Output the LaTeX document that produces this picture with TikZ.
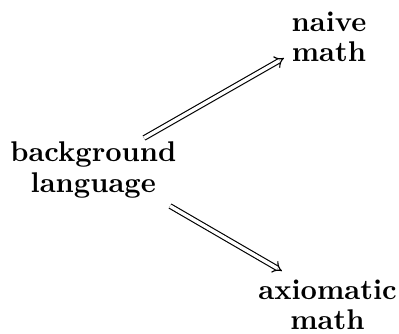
\documentclass[tikz,border=0pt]{standalone}
\usetikzlibrary{arrows.meta,calc}
\begin{document}
\begin{tikzpicture}[x=0.3509pt,y=-0.3509pt,
  lbl/.style={font=\fontsize{10}{10.6}\selectfont\bfseries,align=center,inner sep=0pt},
  arr/.style={double,double distance=1.2pt,line width=0.4pt,-{Implies}}]
\useasboundingbox (0,0) rectangle (399,333);
\node[lbl] (bg) at (93.3,170) {background\\language};
\node[lbl] (nm) at (329,37) {naive\\math};
\node[lbl] (am) at (327.5,305) {axiomatic\\math};
\draw[arr] ($(bg)+(50.7,-32)$) -- ($(nm)+(-45,21)$);
\draw[arr] ($(bg)+(76.7,36)$) -- ($(am)+(-45.5,-34)$);
\end{tikzpicture}
\end{document}
